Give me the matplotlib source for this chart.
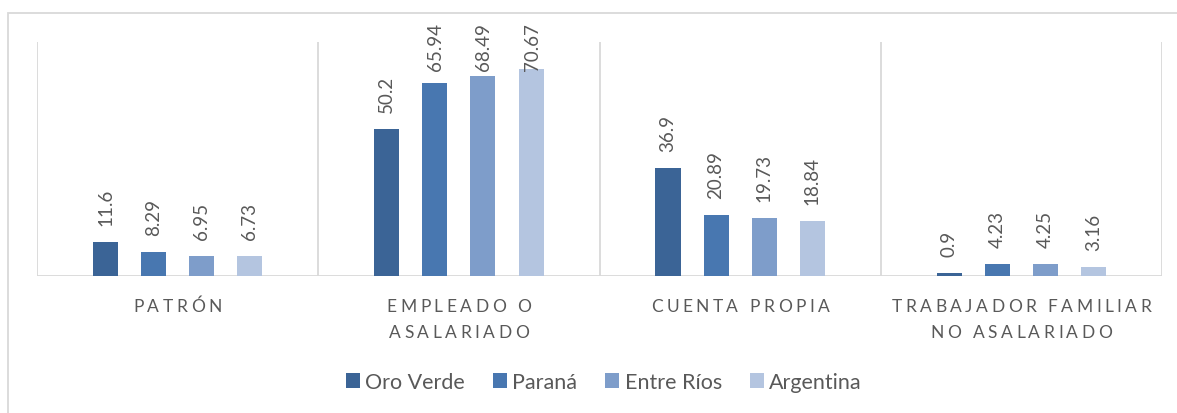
import numpy as np
import matplotlib
matplotlib.use("Agg")
import matplotlib.pyplot as plt
from matplotlib.patches import Patch, Rectangle
from matplotlib.font_manager import FontProperties

categories = ["PATRÓN", "EMPLEADO O\nASALARIADO", "CUENTA PROPIA", "TRABAJADOR FAMILIAR\nNO ASALARIADO"]
series_names = ["Oro Verde", "Paraná", "Entre Ríos", "Argentina"]
oro_verde = [11.6, 50.2, 36.9, 0.9]
parana = [8.29, 65.94, 20.89, 4.23]
entre_rios = [6.95, 68.49, 19.73, 4.25]
argentina = [6.73, 70.67, 18.84, 3.16]
series_values = [oro_verde, parana, entre_rios, argentina]
colors = ["#3B6496", "#4877B0", "#7E9DCA", "#B4C5E0"]

TEXT = "#595959"
GRID = "#D9D9D9"
FONT = ["Lato", "DejaVu Sans"]
plt.rcParams["font.family"] = FONT

W, H = 1177, 414
fig = plt.figure(figsize=(W / 100, H / 100), dpi=100)
fig.patches.append(Rectangle((8 / W, -0.05), 1.1, (H - 13.5) / H + 0.05,
                             transform=fig.transFigure, fill=False,
                             edgecolor=GRID, linewidth=1.3))

ax = fig.add_axes([37 / W, 137 / H, 1125 / W, 234 / H])
x = np.arange(len(categories))
step = 0.171
width = 0.089
all_bars = []
for i, (name, vals, col) in enumerate(zip(series_names, series_values, colors)):
    bars = ax.bar(x + (i - 1.5) * step, vals, width, color=col, label=name, zorder=3)
    all_bars.append((bars, vals))

ax.set_xlim(-0.5, len(categories) - 0.5)
ax.set_ylim(0, 80)
for s in ax.spines.values():
    s.set_visible(False)
ax.set_xticks([])
ax.set_yticks([])
for b in np.arange(-0.5, len(categories), 1.0):
    ax.axvline(b, color=GRID, linewidth=1.3, zorder=1)
ax.axhline(0, color=GRID, linewidth=1.3, zorder=2)

fig.canvas.draw()
renderer = fig.canvas.get_renderer()

# data labels, rotated; clamped to stay inside the chart area (like Excel)
lab_prop = FontProperties(family=FONT, size=13.5)
gap_px = 17
top_limit_px = 23  # from top of figure
for bars, vals in all_bars:
    for rect, v in zip(bars, vals):
        s = f"{v:g}"
        cx = rect.get_x() + rect.get_width() / 2
        top_disp = ax.transData.transform((cx, rect.get_height()))
        length = renderer.get_text_width_height_descent(s, lab_prop, ismath=False)[0]
        bottom_from_top = H - top_disp[1] - gap_px
        if bottom_from_top - length < top_limit_px:
            fig.text(top_disp[0] / W + 1 / W, 1 - top_limit_px / H, s, rotation=90,
                     fontproperties=lab_prop, color=TEXT, ha="center", va="top")
        else:
            fig.text(top_disp[0] / W, 1 - bottom_from_top / H, s, rotation=90,
                     fontproperties=lab_prop, color=TEXT, ha="center", va="bottom")

# letter-spaced category labels
prop = FontProperties(family=FONT, size=12.5)
spacing = 3.5
baselines = [312, 338]
for xi, cat in zip(x, categories):
    cx = ax.transData.transform((xi, 0))[0]
    for li, line in enumerate(cat.split("\n")):
        widths = [renderer.get_text_width_height_descent(ch, prop, ismath=False)[0]
                  if ch != " " else renderer.get_text_width_height_descent("n", prop, ismath=False)[0] * 0.45
                  for ch in line]
        total = sum(widths) + spacing * (len(line) - 1)
        px = cx - total / 2
        for ch, w in zip(line, widths):
            fig.text(px / W, 1 - baselines[li] / H, ch, fontproperties=prop,
                     color=TEXT, ha="left", va="baseline")
            px += w + spacing

handles = [Patch(facecolor=c, edgecolor="none", label=n) for n, c in zip(series_names, colors)]
leg = fig.legend(handles=handles, loc="center", bbox_to_anchor=(604 / W, 1 - 383 / H),
                 ncol=4, frameon=False, fontsize=15.5, handlelength=0.65, handleheight=0.65,
                 handletextpad=0.25, columnspacing=1.3, labelcolor=TEXT)

fig.savefig("out.png", dpi=100, facecolor="white")
